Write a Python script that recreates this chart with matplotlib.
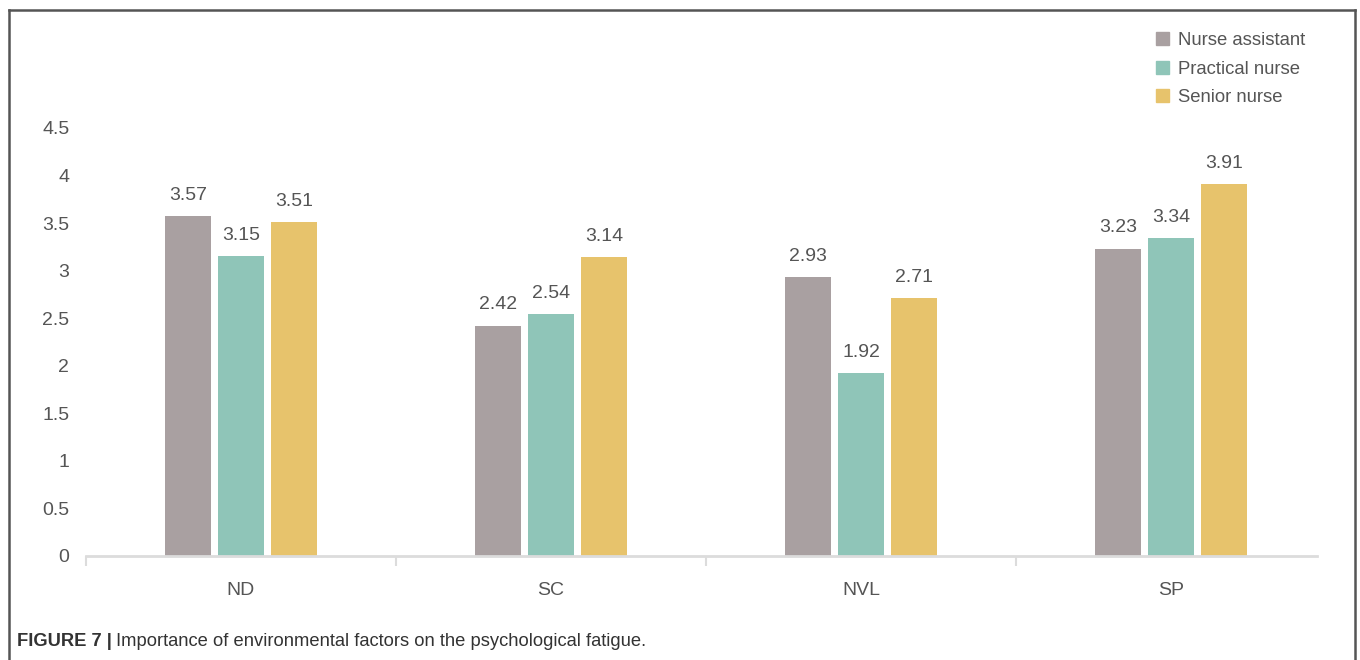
import matplotlib
matplotlib.use("Agg")
import matplotlib.pyplot as plt
import numpy as np
from matplotlib.lines import Line2D
from matplotlib.patches import Patch

categories = ["ND", "SC", "NVL", "SP"]
series_names = ["Nurse assistant", "Practical nurse", "Senior nurse"]
nurse_assistant = [3.57, 2.42, 2.93, 3.23]
practical_nurse = [3.15, 2.54, 1.92, 3.34]
senior_nurse = [3.51, 3.14, 2.71, 3.91]
yticks = [0, 0.5, 1, 1.5, 2, 2.5, 3, 3.5, 4, 4.5]
ytick_labels = ["0", "0.5", "1", "1.5", "2", "2.5", "3", "3.5", "4", "4.5"]

colors = ["#a9a0a1", "#8fc5b8", "#e7c36c"]
text_color = "#555555"

plt.rcParams['font.family'] = ['Liberation Sans', 'DejaVu Sans']

fig = plt.figure(figsize=(13.6, 6.6), dpi=100)
ax = fig.add_axes([86/1360, 1-556/660, (1326-86)/1360, (556-128)/660])

x = np.arange(len(categories))
width = 0.146
offset = 0.171
all_series = [nurse_assistant, practical_nurse, senior_nurse]
for i, (vals, col) in enumerate(zip(all_series, colors)):
    pos = x + (i - 1) * offset
    bars = ax.bar(pos, vals, width=width, color=col, edgecolor=col, linewidth=0,
                  label=series_names[i], zorder=2)
    for b, v in zip(bars, vals):
        ax.annotate(f"{v:.2f}", (b.get_x() + b.get_width()/2, v),
                    xytext=(0, 9), textcoords="offset points",
                    ha="center", va="bottom", fontsize=14, color=text_color)

ax.set_xlim(-0.5, len(categories) - 0.5)
ax.set_ylim(0, 4.5)
ax.set_yticks(yticks)
ax.set_yticklabels(ytick_labels)
ax.set_xticks(x)
ax.set_xticklabels(categories)
ax.set_xticks(np.arange(-0.5, len(categories) - 1, 1.0), minor=True)
ax.tick_params(axis="y", length=0, pad=12, labelsize=14, labelcolor=text_color)
ax.tick_params(axis="x", which="major", length=0, pad=19, labelsize=14, labelcolor=text_color)
ax.tick_params(axis="x", which="minor", length=7, width=1.5, color="#dcdcdc")
for s in ["top", "right", "left"]:
    ax.spines[s].set_visible(False)
ax.spines["bottom"].set_color("#dcdcdc")
ax.spines["bottom"].set_linewidth(2)
ax.spines["bottom"].set_bounds(-0.5, 3.47)

handles = [Patch(facecolor=c, edgecolor=c) for c in colors]
leg = fig.legend(handles, series_names, loc="upper left",
                 bbox_to_anchor=(1147/1360, 1-23/660), frameon=False,
                 fontsize=13.3, handlelength=0.7, handleheight=0.7,
                 handletextpad=0.5, labelspacing=0.62, borderpad=0)
for t in leg.get_texts():
    t.set_color(text_color)

# figure frame (left, top, right)
fx0, fx1 = 8.5/1360, 1355/1360
fy1 = 1 - 9.5/660
fig.add_artist(Line2D([fx0, fx0], [0, fy1], transform=fig.transFigure, color="#555555", lw=1.8))
fig.add_artist(Line2D([fx0, fx1], [fy1, fy1], transform=fig.transFigure, color="#555555", lw=1.8))
fig.add_artist(Line2D([fx1, fx1], [0, fy1], transform=fig.transFigure, color="#555555", lw=1.8))

# caption
t1 = fig.text(17/1360, 1-642/660, "FIGURE 7 |", fontsize=13.2, fontweight="bold",
              color="#333333", va="center", ha="left")
fig.canvas.draw()
bb = t1.get_window_extent()
fig.text((bb.x1 + 4)/1360, 1-642/660, "Importance of environmental factors on the psychological fatigue.",
         fontsize=13.2, color="#333333", va="center", ha="left")

fig.savefig("out.png", dpi=100)
